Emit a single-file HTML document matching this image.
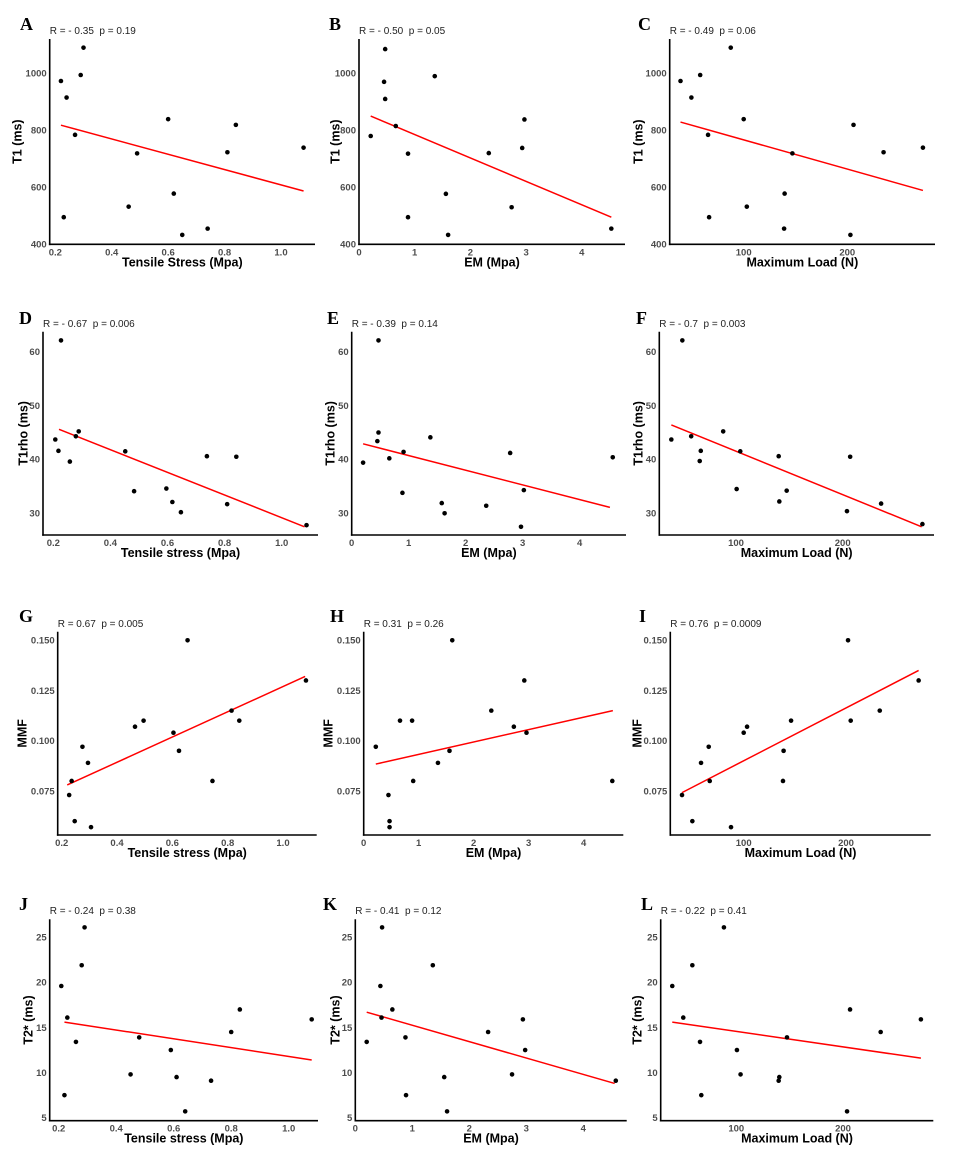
<!DOCTYPE html>
<html><head><meta charset="utf-8">
<style>
html,body{margin:0;padding:0;background:#fff;}
svg{display:block;}
.tick{font-family:"Liberation Sans",sans-serif;font-size:9.5px;font-weight:bold;fill:#4d4d4d;}
.atitle{font-family:"Liberation Sans",sans-serif;font-size:12.5px;font-weight:bold;fill:#000;}
.stats{font-family:"Liberation Sans",sans-serif;font-size:10px;fill:#222;white-space:pre;}
.letter{font-family:"Liberation Serif",serif;font-size:18px;font-weight:bold;fill:#000;}
</style></head>
<body>
<svg id="fig" width="962" height="1157" viewBox="0 0 962 1157" xmlns="http://www.w3.org/2000/svg"></svg>
<script>
// ---- tick arrays ----
const tensileTicks = [0.2, 0.4, 0.6, 0.8, 1.0];
const tensileTickLabels = ["0.2", "0.4", "0.6", "0.8", "1.0"];
const emTicks = [0, 1, 2, 3, 4];
const emTickLabels = ["0", "1", "2", "3", "4"];
const loadTicks = [100, 200];
const loadTickLabels = ["100", "200"];
const t1Ticks = [400, 600, 800, 1000];
const t1TickLabels = ["400", "600", "800", "1000"];
const t1rhoTicks = [30, 40, 50, 60];
const t1rhoTickLabels = ["30", "40", "50", "60"];
const mmfTicks = [0.075, 0.100, 0.125, 0.150];
const mmfTickLabels = ["0.075", "0.100", "0.125", "0.150"];
const t2Ticks = [5, 10, 15, 20, 25];
const t2TickLabels = ["5", "10", "15", "20", "25"];

// ---- panel data ----
const aX = [0.22,0.23,0.24,0.27,0.29,0.30,0.46,0.49,0.60,0.62,0.65,0.74,0.81,0.84,1.08];
const aY = [973,495,915,784,994,1090,532,719,839,578,433,455,723,819,739];
const aFitX = [0.22,1.08]; const aFitY = [818,587];

const bX = [0.21,0.45,0.47,0.47,0.66,0.88,0.88,1.36,1.56,1.60,2.33,2.74,2.93,2.97,4.53];
const bY = [780,970,1085,910,815,718,495,990,577,433,720,530,738,838,455];
const bFitX = [0.21,4.53]; const bFitY = [850,495];

const cX = [39,49.5,58,87.5,65.6,66.6,100,103,139.5,139,147,203,206,235,273];
const cY = [973,915,994,1090,784,495,839,532,578,455,719,433,819,723,739];
const cFitX = [39,273]; const cFitY = [829,589];

const dX = [0.207,0.218,0.227,0.258,0.279,0.289,0.452,0.483,0.596,0.617,0.647,0.738,0.809,0.841,1.087];
const dY = [43.7,41.6,62.1,39.6,44.3,45.2,41.5,34.1,34.6,32.1,30.2,40.6,31.7,40.5,27.8];
const dFitX = [0.22,1.08]; const dFitY = [45.6,27.5];

const eX = [0.20,0.45,0.47,0.47,0.66,0.89,0.91,1.38,1.58,1.63,2.36,2.78,2.97,3.02,4.58];
const eY = [39.4,43.4,62.1,45.0,40.2,33.8,41.4,44.1,31.9,30.0,31.4,41.2,27.5,34.3,40.4];
const eFitX = [0.20,4.53]; const eFitY = [42.9,31.1];

const fX = [39.4,49.7,58,67,66,88,100.6,104,140,140.6,147.5,204,207,236,274.7];
const fY = [43.7,62.1,44.3,41.6,39.7,45.2,34.5,41.5,40.6,32.2,34.2,30.4,40.5,31.8,28.0];
const fFitX = [39.4,274]; const fFitY = [46.4,27.5];

const gX = [0.227,0.236,0.247,0.275,0.295,0.306,0.465,0.496,0.604,0.624,0.655,0.745,0.814,0.842,1.083];
const gY = [0.073,0.080,0.060,0.097,0.089,0.057,0.107,0.110,0.104,0.095,0.150,0.080,0.115,0.110,0.130];
const gFitX = [0.22,1.08]; const gFitY = [0.078,0.132];

const hX = [0.22,0.45,0.47,0.47,0.66,0.88,0.90,1.35,1.56,1.61,2.32,2.73,2.92,2.96,4.52];
const hY = [0.097,0.073,0.060,0.057,0.110,0.110,0.080,0.089,0.095,0.150,0.115,0.107,0.130,0.104,0.080];
const hFitX = [0.22,4.53]; const hFitY = [0.0884,0.115];

const iX = [39.7,49.8,58.3,65.8,66.8,87.6,100,103.3,138.4,139,146.3,202,204.6,233,271];
const iY = [0.073,0.060,0.089,0.097,0.080,0.057,0.104,0.107,0.080,0.095,0.110,0.150,0.110,0.115,0.130];
const iFitX = [39.7,271]; const iFitY = [0.0742,0.135];

const jX = [0.209,0.22,0.23,0.26,0.28,0.29,0.45,0.48,0.59,0.61,0.64,0.73,0.80,0.83,1.08];
const jY = [19.6,7.5,16.1,13.4,21.9,26.1,9.8,13.9,12.5,9.5,5.7,9.1,14.5,17.0,15.9];
const jFitX = [0.22,1.08]; const jFitY = [15.6,11.4];

const kX = [0.20,0.44,0.46,0.47,0.65,0.88,0.89,1.36,1.56,1.61,2.33,2.75,2.94,2.98,4.57];
const kY = [13.4,19.6,16.1,26.1,17.0,13.9,7.5,21.9,9.5,5.7,14.5,9.8,15.9,12.5,9.1];
const kFitX = [0.20,4.55]; const kFitY = [16.7,8.8];

const lX = [40,50.3,58.8,66,67.2,88.4,100.6,104,139.7,140.3,147.5,203.8,206.6,235.3,273];
const lY = [19.6,16.1,21.9,13.4,7.5,26.1,12.5,9.8,9.1,9.5,13.9,5.7,17.0,14.5,15.9];
const lFitX = [40,273]; const lFitY = [15.6,11.6];

const NS = "http://www.w3.org/2000/svg";
const fig = document.getElementById("fig");
function mk(tag, attrs, parent){
  const e = document.createElementNS(NS, tag);
  for (const k in attrs) e.setAttribute(k, attrs[k]);
  (parent||fig).appendChild(e);
  return e;
}
function lin(v1,p1,v2,p2){ return v => p1 + (v - v1) * (p2 - p1) / (v2 - v1); }

const rows = [
  {top:39, bottom:244.3, yv:[400,1000], yp:[244.3,73.3], ticks:t1Ticks, labels:t1TickLabels, title:"T1 (ms)", statY:34, letY:30},
  {top:331.7, bottom:535, yv:[30,60], yp:[513.3,351.7], ticks:t1rhoTicks, labels:t1rhoTickLabels, title:"T1rho (ms)", statY:327, letY:324},
  {top:631.7, bottom:835, yv:[0.075,0.150], yp:[791,640.3], ticks:mmfTicks, labels:mmfTickLabels, title:"MMF", statY:627, letY:622},
  {top:919.3, bottom:1120.7, yv:[5,25], yp:[1117.7,937.3], ticks:t2Ticks, labels:t2TickLabels, title:"T2* (ms)", statY:914, letY:910}
];
const xTypes = {
  tensile:{ticks:tensileTicks, labels:tensileTickLabels, v:[0.2,1.0]},
  em:{ticks:emTicks, labels:emTickLabels, v:[0,1]},
  load:{ticks:loadTicks, labels:loadTickLabels, v:[100,200]}
};
const panels = [
  {L:"A",row:0,xt:"tensile",ax:49.7,right:315,xp:[55.3,281],xs:[aX,aY,aFitX,aFitY],stat:"R = - 0.35  p = 0.19",xTitle:"Tensile Stress (Mpa)",ytx:17,lx:20},
  {L:"B",row:0,xt:"em",ax:359,right:625,xp:[359,414.7],xs:[bX,bY,bFitX,bFitY],stat:"R = - 0.50  p = 0.05",xTitle:"EM (Mpa)",ytx:335,lx:329},
  {L:"C",row:0,xt:"load",ax:669.7,right:935,xp:[743.7,847.3],xs:[cX,cY,cFitX,cFitY],stat:"R = - 0.49  p = 0.06",xTitle:"Maximum Load (N)",ytx:638,lx:638},
  {L:"D",row:1,xt:"tensile",ax:43,right:318,xp:[53.3,281.7],xs:[dX,dY,dFitX,dFitY],stat:"R = - 0.67  p = 0.006",xTitle:"Tensile stress (Mpa)",ytx:23,lx:19},
  {L:"E",row:1,xt:"em",ax:351.7,right:626,xp:[351.7,408.7],xs:[eX,eY,eFitX,eFitY],stat:"R = - 0.39  p = 0.14",xTitle:"EM (Mpa)",ytx:330,lx:327},
  {L:"F",row:1,xt:"load",ax:659.3,right:934,xp:[736,842.7],xs:[fX,fY,fFitX,fFitY],stat:"R = - 0.7  p = 0.003",xTitle:"Maximum Load (N)",ytx:638,lx:636},
  {L:"G",row:2,xt:"tensile",ax:57.7,right:316.7,xp:[61.7,283],xs:[gX,gY,gFitX,gFitY],stat:"R = 0.67  p = 0.005",xTitle:"Tensile stress (Mpa)",ytx:22,lx:19},
  {L:"H",row:2,xt:"em",ax:363.7,right:623.3,xp:[363.7,418.7],xs:[hX,hY,hFitX,hFitY],stat:"R = 0.31  p = 0.26",xTitle:"EM (Mpa)",ytx:328,lx:330},
  {L:"I",row:2,xt:"load",ax:670.3,right:930.7,xp:[743.7,846],xs:[iX,iY,iFitX,iFitY],stat:"R = 0.76  p = 0.0009",xTitle:"Maximum Load (N)",ytx:637,lx:639},
  {L:"J",row:3,xt:"tensile",ax:49.7,right:318,xp:[58.7,288.7],xs:[jX,jY,jFitX,jFitY],stat:"R = - 0.24  p = 0.38",xTitle:"Tensile stress (Mpa)",ytx:28,lx:19},
  {L:"K",row:3,xt:"em",ax:355.3,right:626.7,xp:[355.3,412.3],xs:[kX,kY,kFitX,kFitY],stat:"R = - 0.41  p = 0.12",xTitle:"EM (Mpa)",ytx:335,lx:323},
  {L:"L",row:3,xt:"load",ax:660.7,right:933.3,xp:[736.3,843],xs:[lX,lY,lFitX,lFitY],stat:"R = - 0.22  p = 0.41",xTitle:"Maximum Load (N)",ytx:637,lx:641}
];

panels.forEach(p => {
  const r = rows[p.row], xt = xTypes[p.xt];
  const sx = lin(xt.v[0], p.xp[0], xt.v[1], p.xp[1]);
  const sy = lin(r.yv[0], r.yp[0], r.yv[1], r.yp[1]);
  const g = mk("g", {});
  
  

  const let_ = mk("text", {x:p.lx, y:r.letY, class:"letter"}, g);
  let_.textContent = p.L;
  
  

  const st = mk("text", {x:p.ax, y:r.statY, class:"stats"}, g);
  st.textContent = p.stat;
  
  

  const ya = mk("line", {x1:p.ax, y1:r.top, x2:p.ax, y2:r.bottom+0.8, stroke:"#000", "stroke-width":1.6}, g);
  
  
  const xa = mk("line", {x1:p.ax-0.8, y1:r.bottom, x2:p.right, y2:r.bottom, stroke:"#000", "stroke-width":1.6}, g);
  
  

  r.ticks.forEach((t, i) => {
    const tl = mk("text", {x:p.ax-3, y:sy(t)+3.3, class:"tick", "text-anchor":"end"}, g);
    tl.textContent = r.labels[i];
    
    
  });
  xt.ticks.forEach((t, i) => {
    const tl = mk("text", {x:sx(t), y:r.bottom+11, class:"tick", "text-anchor":"middle"}, g);
    tl.textContent = xt.labels[i];
    
    
  });

  const xtt = mk("text", {x:(p.ax+p.right)/2, y:r.bottom+22, class:"atitle", "text-anchor":"middle"}, g);
  xtt.textContent = p.xTitle;
  
  
  const cy = (r.top + r.bottom) / 2;
  const ytt = mk("text", {x:p.ytx+4.5, y:cy, class:"atitle", "text-anchor":"middle", transform:`rotate(-90 ${p.ytx+4.5} ${cy})`}, g);
  ytt.textContent = r.title;
  
  

  const [X, Y, FX, FY] = p.xs;
  const fit = mk("line", {x1:sx(FX[0]), y1:sy(FY[0]), x2:sx(FX[1]), y2:sy(FY[1]), stroke:"#ff0000", "stroke-width":1.5}, g);
  
  

  X.forEach((v, i) => {
    const c = mk("circle", {cx:sx(v), cy:sy(Y[i]), r:2.3, fill:"#000"}, g);
    
    
  });
});
</script>
</body></html>
